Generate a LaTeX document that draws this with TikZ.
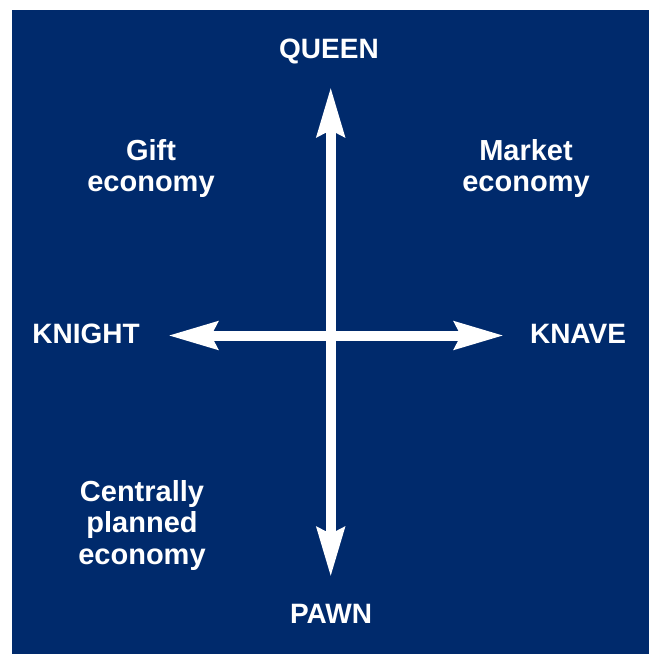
\documentclass[tikz,border=0pt]{standalone}
\usepackage{fontspec}
\setmainfont{Liberation Sans}
\usetikzlibrary{arrows.meta}
\definecolor{navy}{RGB}{0,42,108}
\begin{document}
\begin{tikzpicture}[x=1pt,y=-1pt,
  axislabel/.style={text=white,inner sep=0pt,anchor=base,
    font=\bfseries\fontsize{28}{32}\selectfont},
  zonelabel/.style={text=white,inner sep=0pt,anchor=base,align=center,
    font=\bfseries\fontsize{29}{31.5}\selectfont},
  axis/.style={draw=white,line width=10pt,
    {Stealth[length=49pt,width=27pt,inset=6pt,fill=white]}-{Stealth[length=49pt,width=27pt,inset=6pt,fill=white]}}]
  % page and background panel
  \useasboundingbox (0,0) rectangle (649,654);
  \fill[white] (0,0) rectangle (649,654);
  \fill[navy] (12,10) rectangle (649,654);

  % axis end points
  \coordinate (top) at (330.7,87);
  \coordinate (bottom) at (330.7,577);
  \coordinate (left) at (168,335.5);
  \coordinate (right) at (504,335.5);

  % axes
  \draw[axis] (bottom) -- (top);
  \draw[axis] (left) -- (right);

  % pole labels
  \node[axislabel] (queen) at (329,58.3) {QUEEN};
  \node[axislabel] (pawn) at (331,623.3) {PAWN};
  \node[axislabel] (knight) at (86,343.3) {KNIGHT};
  \node[axislabel] (knave) at (578,343.3) {KNAVE};

  % quadrant labels (anchored on the baseline of their last line)
  \node[zonelabel] (gift) at (151,191.7) {Gift\\economy};
  \node[zonelabel] (market) at (526,191.7) {Market\\economy};
  \node[zonelabel] (planned) at (142,564) {Centrally\\planned\\economy};
\end{tikzpicture}
\end{document}
